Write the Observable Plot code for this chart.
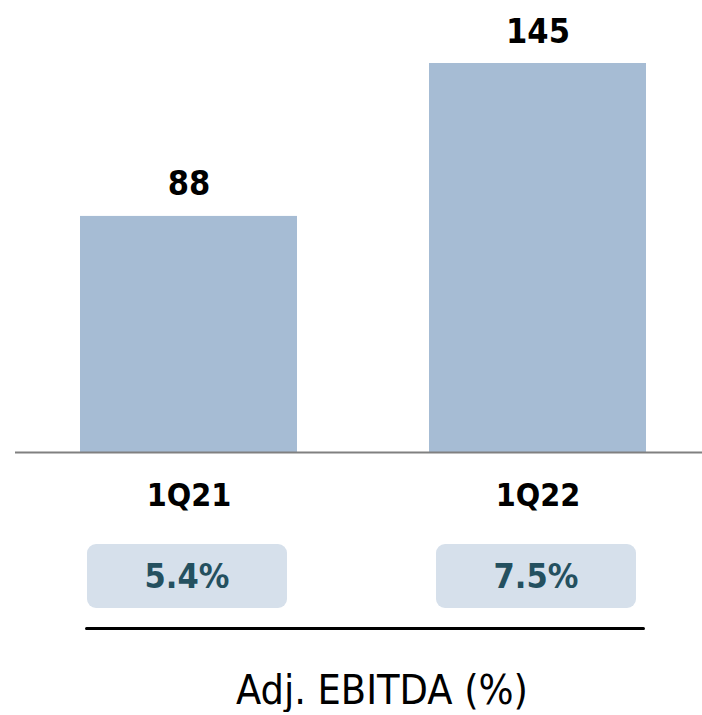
<!DOCTYPE html>
<html>
<head>
<meta charset="utf-8">
<script src="https://cdn.jsdelivr.net/npm/d3@7"></script>
<script src="https://cdn.jsdelivr.net/npm/@observablehq/plot@0.6"></script>
<style>
  html, body { margin: 0; padding: 0; background: #fff; }
  #chart { width: 702px; }
  .rule { margin-left: 85px; width: 560px; height: 0; border-top: 3px solid #000; border-radius: 2px; }
  .caption { width: 702px; text-align: center; font-family: "DejaVu Sans Condensed", "DejaVu Sans", sans-serif; font-stretch: condensed; font-size: 41px; line-height: 44px; color: #000; margin-top: 38px; padding-left: 62px; box-sizing: border-box; white-space: nowrap; }
</style>
</head>
<body>
<div id="chart"></div>
<script>
const categories = ["1Q21", "1Q22"];
const ebitda = [88, 145];
const margins = ["5.4%", "7.5%"];
const captionText = "Adj. EBITDA (%)";

const rows = categories.map((c, i) => ({cat: c, value: ebitda[i], margin: margins[i]}));
const font = `"DejaVu Sans Condensed", "DejaVu Sans", sans-serif`;
const xScale = {domain: categories, range: [80, 647], paddingInner: 0.377, paddingOuter: 0, axis: null};

const topPlot = Plot.plot({
  width: 702, height: 520,
  marginLeft: 15, marginRight: 0, marginTop: 63, marginBottom: 68,
  style: {fontFamily: font, fontStretch: "condensed", background: "#fff"},
  x: xScale,
  y: {domain: [0, 145], axis: null},
  marks: [
    Plot.barY(rows, {x: "cat", y: "value", fill: "#a6bcd4"}),
    Plot.ruleY([0], {stroke: "#808080", strokeWidth: 2}),
    Plot.text(rows, {x: "cat", y: "value", text: d => String(d.value), lineAnchor: "bottom", dy: -21, fontSize: 34, fontWeight: "bold", fill: "#000"}),
    Plot.text(rows, {x: "cat", frameAnchor: "bottom", text: "cat", lineAnchor: "top", dy: 31, fontSize: 32, fontWeight: "bold", fill: "#000"})
  ]
});

const bottomPlot = Plot.plot({
  width: 702, height: 107,
  marginLeft: 15, marginRight: 0, marginTop: 24, marginBottom: 19,
  style: {fontFamily: font, fontStretch: "condensed", background: "#fff"},
  x: xScale,
  marks: [
    Plot.rect(rows, {x: "cat", fill: "#d6e0eb", insetLeft: 7, insetRight: 10, rx: 9}),
    Plot.text(rows, {x: "cat", text: "margin", dx: -2, dy: 1, fontSize: 34, fontWeight: "bold", fill: "#24505f"})
  ]
});

const chart = document.getElementById("chart");
chart.appendChild(topPlot);
chart.appendChild(bottomPlot);
const rule = document.createElement("div");
rule.className = "rule";
chart.appendChild(rule);
const cap = document.createElement("div");
cap.className = "caption";
cap.textContent = captionText;
chart.appendChild(cap);
topPlot.style.display = "block";
bottomPlot.style.display = "block";
</script>
</body>
</html>
